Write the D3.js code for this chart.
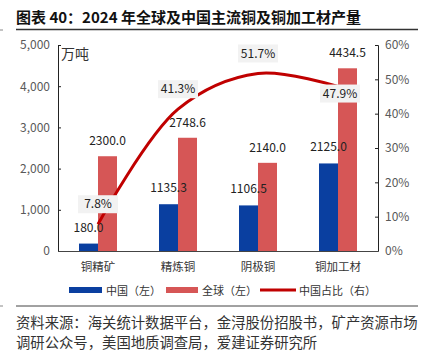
<!DOCTYPE html>
<html>
<head>
<meta charset="utf-8">
<script src="https://cdn.jsdelivr.net/npm/d3@7"></script>
<style>
body { margin:0; background:#fff; }
text { font-family: "Noto Sans CJK SC", "Noto Sans", sans-serif; }
</style>
</head>
<body>
<div id="c"></div>
<script>
var categories = ["铜精矿", "精炼铜", "阴极铜", "铜加工材"];
var chinaVals = [180.0, 1135.3, 1106.5, 2125.0];
var globalVals = [2300.0, 2748.6, 2140.0, 4434.5];
var shareVals = [7.8, 41.3, 51.7, 47.9];
var leftTicks = [0, 1000, 2000, 3000, 4000, 5000];
var rightTicks = [0, 10, 20, 30, 40, 50, 60];

var svg = d3.select("#c").append("svg")
  .attr("width", 428).attr("height", 351);

var x0 = 58, x1 = 378, yTop = 45, yBot = 251;

// title
svg.append("text").attr("x", 16).attr("y", 23)
  .attr("font-size", "15px").attr("font-weight", "bold").attr("fill", "#111")
  .text("图表 40：2024 年全球及中国主流铜及铜加工材产量");
svg.append("line").attr("x1", 16).attr("x2", 418).attr("y1", 29.5).attr("y2", 29.5)
  .attr("stroke", "#333").attr("stroke-width", 1.3);
// page edge marks
svg.append("line").attr("x1", 0).attr("x2", 3).attr("y1", 30).attr("y2", 30).attr("stroke", "#888");
svg.append("line").attr("x1", 0).attr("x2", 3).attr("y1", 306).attr("y2", 306).attr("stroke", "#888");

var x = d3.scaleBand().domain(categories).range([x0, x1]);
var y = d3.scaleLinear().domain([0, 5000]).range([yBot, yTop]);
var y2 = d3.scaleLinear().domain([0, 60]).range([yBot, yTop]);
var bw = 19;

// axes
var axL = svg.append("g").attr("transform", "translate(" + x0 + ",0)")
  .call(d3.axisLeft(y).tickValues(leftTicks).tickSize(-3).tickPadding(8).tickFormat(d3.format(",")));
var axR = svg.append("g").attr("transform", "translate(" + x1 + ",0)")
  .call(d3.axisRight(y2).tickValues(rightTicks).tickSize(-3).tickPadding(7).tickFormat(function(d){ return d + "%"; }));
[axL, axR].forEach(function(a) {
  a.select(".domain").attr("stroke", "#222");
  a.selectAll(".tick line").attr("stroke", "#222");
  a.selectAll("text").attr("font-size", "12px").attr("fill", "#595959")
    .attr("font-family", "'Noto Sans', sans-serif");
});

svg.append("text").attr("x", 61).attr("y", 59).attr("font-size", "14px").attr("fill", "#333").text("万吨");

// bars
var g = svg.append("g");
g.selectAll("rect.cn").data(chinaVals).enter().append("rect")
  .attr("x", function(d, i) { return x(categories[i]) + x.bandwidth()/2 - bw; })
  .attr("y", function(d) { return y(d); })
  .attr("width", bw).attr("height", function(d) { return yBot - y(d); })
  .attr("fill", "#0a3fa0");
g.selectAll("rect.gl").data(globalVals).enter().append("rect")
  .attr("x", function(d, i) { return x(categories[i]) + x.bandwidth()/2; })
  .attr("y", function(d) { return y(d); })
  .attr("width", bw).attr("height", function(d) { return yBot - y(d); })
  .attr("fill", "#d65656");

// bottom axis line
svg.append("line").attr("x1", x0).attr("x2", x1).attr("y1", yBot + 0.5).attr("y2", yBot + 0.5)
  .attr("stroke", "#444").attr("stroke-width", 1);

// value labels
g.selectAll("text.cn").data(chinaVals).enter().append("text")
  .attr("x", function(d, i) { return x(categories[i]) + x.bandwidth()/2 - bw/2; })
  .attr("y", function(d) { return y(d) - 12; })
  .attr("text-anchor", "middle").attr("font-size", "12px").attr("fill", "#222")
  .attr("font-family", "'Noto Sans', sans-serif")
  .text(function(d) { return d.toFixed(1); });
g.selectAll("text.gl").data(globalVals).enter().append("text")
  .attr("x", function(d, i) { return x(categories[i]) + x.bandwidth()/2 + bw/2; })
  .attr("y", function(d) { return y(d) - 11; })
  .attr("text-anchor", "middle").attr("font-size", "12px").attr("fill", "#222")
  .attr("font-family", "'Noto Sans', sans-serif")
  .text(function(d) { return d.toFixed(1); });

// share line
var pts = shareVals.map(function(d, i) { return [x(categories[i]) + x.bandwidth()/2, y2(d)]; });
svg.append("path").datum(pts)
  .attr("d", d3.line().curve(d3.curveCatmullRom.alpha(0.5)))
  .attr("fill", "none").attr("stroke", "#c00000").attr("stroke-width", 3);

// share labels
var sl = svg.selectAll("g.sl").data(shareVals).enter().append("g")
  .attr("transform", function(d, i) {
    var dx = i === shareVals.length - 1 ? 2 : 0;
    var dy = i === shareVals.length - 1 ? 7 : -20;
    return "translate(" + (pts[i][0] + dx) + "," + (pts[i][1] + dy) + ")";
  });
sl.append("rect").attr("x", -20).attr("y", -9).attr("width", 40).attr("height", 18).attr("fill", "#f2f2f2");
sl.append("text").attr("text-anchor", "middle").attr("dy", "0.35em")
  .attr("font-size", "12px").attr("fill", "#222").attr("font-family", "'Noto Sans', sans-serif")
  .text(function(d) { return d.toFixed(1) + "%"; });

// category labels
svg.selectAll("text.cat").data(categories).enter().append("text")
  .attr("x", function(d) { return x(d) + x.bandwidth()/2; })
  .attr("y", 271).attr("text-anchor", "middle")
  .attr("font-size", "11.5px").attr("fill", "#333")
  .text(function(d) { return d; });

// legend
var lg = svg.append("g");
lg.append("rect").attr("x", 69).attr("y", 287).attr("width", 33).attr("height", 6).attr("fill", "#0a3fa0");
lg.append("text").attr("x", 106).attr("y", 294.5).attr("font-size", "11px").attr("fill", "#333").text("中国（左）");
lg.append("rect").attr("x", 166).attr("y", 287).attr("width", 32).attr("height", 6).attr("fill", "#d65656");
lg.append("text").attr("x", 202).attr("y", 294.5).attr("font-size", "11px").attr("fill", "#333").text("全球（左）");
lg.append("line").attr("x1", 260).attr("x2", 296).attr("y1", 290).attr("y2", 290)
  .attr("stroke", "#c00000").attr("stroke-width", 3);
lg.append("text").attr("x", 299).attr("y", 294.5).attr("font-size", "11px").attr("fill", "#333").text("中国占比（右）");

// source
svg.append("line").attr("x1", 16).attr("x2", 418).attr("y1", 306).attr("y2", 306)
  .attr("stroke", "#444").attr("stroke-width", 1);
svg.append("text").attr("x", 16).attr("y", 328).attr("font-size", "14.35px").attr("fill", "#333")
  .text("资料来源：海关统计数据平台，金浔股份招股书，矿产资源市场");
svg.append("text").attr("x", 16).attr("y", 348).attr("font-size", "14.35px").attr("fill", "#333")
  .text("调研公众号，美国地质调查局，爱建证券研究所");
</script>
</body>
</html>
